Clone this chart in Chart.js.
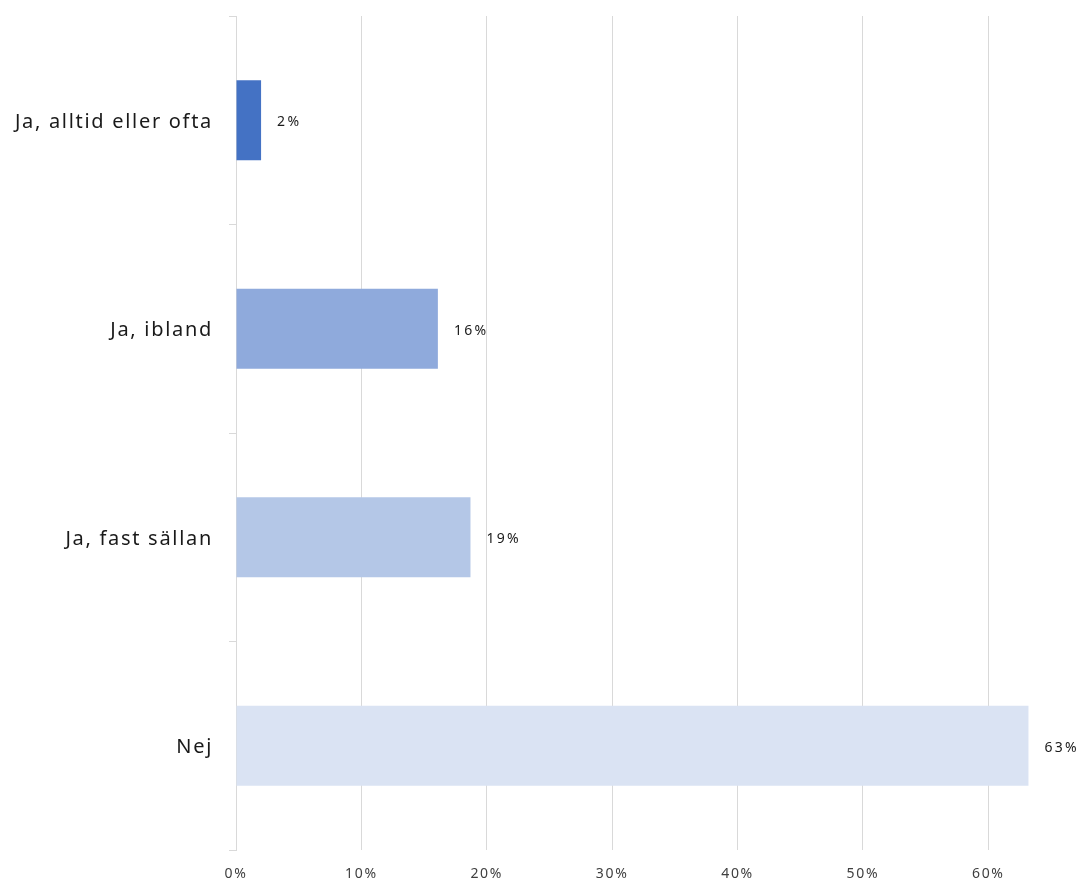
<!DOCTYPE html>
<html>
<head>
<meta charset="utf-8">
<script src="https://cdn.jsdelivr.net/npm/chart.js@4/dist/chart.umd.min.js"></script>
<style>
html,body{margin:0;padding:0;background:#fff;overflow:hidden;}
#wrap{width:1083px;height:884px;position:relative;}
</style>
</head>
<body>
<div id="wrap"><canvas id="c" width="1083" height="884"></canvas></div>
<script>
const categories = ["Ja, alltid eller ofta", "Ja, ibland", "Ja, fast sällan", "Nej"];
const values = [0.02, 0.161, 0.187, 0.632];
const valueLabels = ["2%", "16%", "19%", "63%"];
const barColors = ["#4472C4", "#8FAADC", "#B4C7E7", "#DAE3F3"];
const xTicks = [0, 0.1, 0.2, 0.3, 0.4, 0.5, 0.6];

const FONT = "'Noto Sans', 'Open Sans', sans-serif";

const spacingPlugin = {
  id: 'spacing',
  beforeDraw(chart) { chart.ctx.letterSpacing = "1.7px"; },
  afterDraw(chart) { chart.ctx.letterSpacing = "0px"; }
};

const labelPlugin = {
  id: 'valueLabels',
  afterDatasetsDraw(chart) {
    const ctx = chart.ctx;
    const meta = chart.getDatasetMeta(0);
    ctx.save();
    ctx.letterSpacing = "2.3px";
    ctx.font = "14px " + FONT;
    ctx.fillStyle = "#1a1a1a";
    ctx.textAlign = "left";
    ctx.textBaseline = "middle";
    meta.data.forEach((bar, i) => {
      ctx.fillText(valueLabels[i], bar.x + 16, bar.y + 2);
    });
    ctx.restore();
  }
};

new Chart(document.getElementById('c'), {
  type: 'bar',
  data: {
    labels: categories,
    datasets: [{
      data: values,
      backgroundColor: barColors,
      borderWidth: 0,
      categoryPercentage: 1,
      barPercentage: 0.384
    }]
  },
  options: {
    indexAxis: 'y',
    responsive: false,
    animation: false,
    devicePixelRatio: 1,
    layout: { padding: { top: 16, right: 0, bottom: 0, left: 0 } },
    plugins: { legend: { display: false }, tooltip: { enabled: false } },
    scales: {
      x: {
        min: 0,
        max: 0.6755,
        afterFit(s) { s.height = 34; s.paddingLeft = 0; s.paddingRight = 0; },
        afterBuildTicks(s) { s.ticks = xTicks.map(v => ({ value: v })); },
        grid: { color: "#d9d9d9", lineWidth: 1, drawTicks: false },
        border: { display: false },
        ticks: {
          includeBounds: false,
          padding: 16,
          color: "#404040",
          font: { family: FONT, size: 14 },
          maxRotation: 0,
          callback: v => Math.round(v * 100) + "%"
        }
      },
      y: {
        afterFit(s) { s.width = 236; s.paddingTop = 0; s.paddingBottom = 0; },
        grid: { offset: true, drawOnChartArea: false, drawTicks: true, tickLength: 7, color: "#d9d9d9" },
        border: { display: true, color: "#d9d9d9", width: 1 },
        ticks: {
          padding: 16,
          labelOffset: 2,
          color: "#1a1a1a",
          font: { family: FONT, size: 20 }
        }
      }
    }
  },
  plugins: [spacingPlugin, labelPlugin]
});
</script>
</body>
</html>
